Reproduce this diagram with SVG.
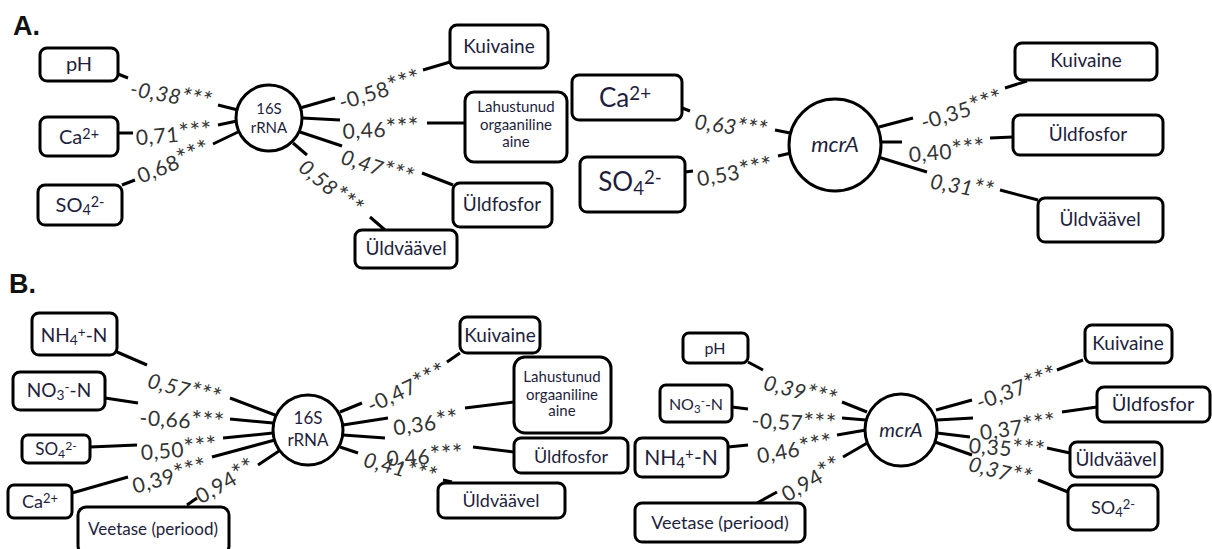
<svg xmlns="http://www.w3.org/2000/svg" width="1212" height="549" viewBox="0 0 1212 549">
<style>
.bx{fill:#fff;stroke:#000;stroke-width:3}
.ci{fill:#fff;stroke:#000;stroke-width:3}
.t{font-family:Lato,"Open Sans",sans-serif;fill:#1e1e3c;text-anchor:middle}
.cl{font-family:Lato,"Open Sans",sans-serif;fill:#333;text-anchor:middle;font-size:21px;letter-spacing:0.5px}
.as{font-size:25px}
.it{font-style:italic}
.hd{font-family:"Liberation Sans",Arial,sans-serif;font-weight:bold;font-size:27px;fill:#111}
.sub{baseline-shift:-22%;font-size:72%}
.sup{baseline-shift:38%;font-size:72%}
#connectors path{fill:none;stroke:#000;stroke-width:3}
</style>
<rect width="1212" height="549" fill="#fff"/>
<text class="hd" x="13" y="35">A.</text>
<text class="hd" x="9" y="293">B.</text>

<g id="connectors">
<path d="M118,74 L128,78 M218,105 L238,110"/>
<path d="M118,133 L133,133 M218,125 L237,121"/>
<path d="M122,185 L135,180 M213,144 L238,132"/>
<path d="M300,108 L335,98 M423,70 L450,62"/>
<path d="M302,118 L340,120 M427,123 L465,123"/>
<path d="M300,132 L342,146 M422,173 L453,185"/>
<path d="M293,143 L307,155 M370,217 L385,230"/>
<path d="M682,108 L690,111 M775,130 L790,133"/>
<path d="M685,172 L693,171 M778,156 L791,153"/>
<path d="M879,127 L913,118 M1005,88 L1027,81"/>
<path d="M880,142 L902,142 M990,138 L1013,137"/>
<path d="M878,157 L927,172 M1000,190 L1038,200"/>
<path d="M117,352 L147,365 M230,398 L275,415"/>
<path d="M105,398 L138,403 M230,419 L273,423"/>
<path d="M90,447 L137,445 M223,438 L273,433"/>
<path d="M72,493 L128,477 M212,457 L275,440"/>
<path d="M187,505 L197,498 M258,465 L279,451"/>
<path d="M340,412 L362,403 M447,362 L460,353"/>
<path d="M343,425 L388,418 M465,408 L514,402"/>
<path d="M343,435 L385,438 M473,447 L514,452"/>
<path d="M340,447 L358,453 M443,480 L452,482"/>
<path d="M748,362 L763,370 M842,402 L867,412"/>
<path d="M732,407 L748,409 M842,418 L866,420"/>
<path d="M728,447 L748,445 M837,435 L866,430"/>
<path d="M757,503 L777,492 M843,457 L869,442"/>
<path d="M936,410 L972,400 M1057,370 L1083,360"/>
<path d="M937,420 L973,418 M1062,412 L1097,407"/>
<path d="M937,433 L970,437 M1047,448 L1070,453"/>
<path d="M935,442 L972,455 M1038,480 L1068,492"/>

<text class="cl it" transform="translate(171,96) rotate(10)" y="7">-0,38<tspan class="as">***</tspan></text>
<text class="cl" transform="translate(174,135) rotate(-5)" y="7">0,71<tspan class="as">***</tspan></text>
<text class="cl" transform="translate(174,163) rotate(-22)" y="7">0,68<tspan class="as">***</tspan></text>
<text class="cl" transform="translate(380,91) rotate(-17)" y="7">-0,58<tspan class="as">***</tspan></text>
<text class="cl" transform="translate(381,130) rotate(-3)" y="7">0,46<tspan class="as">***</tspan></text>
<text class="cl it" transform="translate(377,168) rotate(18)" y="7">0,47<tspan class="as">***</tspan></text>
<text class="cl it" transform="translate(330,188) rotate(40)" y="7">0,58<tspan class="as">***</tspan></text>

<text class="cl it" transform="translate(731,127) rotate(8)" y="7">0,63<tspan class="as">***</tspan></text>
<text class="cl" transform="translate(735,173) rotate(-10)" y="7">0,53<tspan class="as">***</tspan></text>
<text class="cl" transform="translate(962,111) rotate(-17)" y="7">-0,35<tspan class="as">***</tspan></text>
<text class="cl" transform="translate(947,152) rotate(-5)" y="7">0,40<tspan class="as">***</tspan></text>
<text class="cl it" transform="translate(962,187) rotate(10)" y="7">0,31<tspan class="as">**</tspan></text>

<text class="cl it" transform="translate(184,390) rotate(15)" y="7">0,57<tspan class="as">***</tspan></text>
<text class="cl" transform="translate(182,421) rotate(4)" y="7">-0,66<tspan class="as">***</tspan></text>
<text class="cl" transform="translate(179,450) rotate(-5)" y="7">0,50<tspan class="as">***</tspan></text>
<text class="cl" transform="translate(170,477) rotate(-15)" y="7">0,39<tspan class="as">***</tspan></text>
<text class="cl" transform="translate(226,482) rotate(-30)" y="7">0,94<tspan class="as">**</tspan></text>
<text class="cl" transform="translate(407,389) rotate(-25)" y="7">-0,47<tspan class="as">***</tspan></text>
<text class="cl" transform="translate(426,424) rotate(-8)" y="7">0,36<tspan class="as">**</tspan></text>
<text class="cl" transform="translate(425,457) rotate(-3)" y="7">0,46<tspan class="as">***</tspan></text>
<text class="cl it" transform="translate(400,469) rotate(15)" y="7">0,41<tspan class="as">***</tspan></text>

<text class="cl it" transform="translate(800,392) rotate(15)" y="7">0,39<tspan class="as">***</tspan></text>
<text class="cl" transform="translate(794,423) rotate(3)" y="7">-0,57<tspan class="as">***</tspan></text>
<text class="cl" transform="translate(795,450) rotate(-10)" y="7">0,46<tspan class="as">***</tspan></text>
<text class="cl" transform="translate(812,480) rotate(-30)" y="7">0,94<tspan class="as">**</tspan></text>
<text class="cl" transform="translate(1017,389) rotate(-20)" y="7">-0,37<tspan class="as">***</tspan></text>
<text class="cl" transform="translate(1018,428) rotate(-8)" y="7">0,37<tspan class="as">***</tspan></text>
<text class="cl" transform="translate(1007,449) rotate(5)" y="7">0,35<tspan class="as">***</tspan></text>
<text class="cl it" transform="translate(1000,472) rotate(15)" y="7">0,37<tspan class="as">**</tspan></text>
</g>

<g id="a-16s"><circle class="ci" cx="269" cy="118" r="33"/><text class="t" font-size="15"><tspan x="269" y="114">16S</tspan><tspan x="269" y="133">rRNA</tspan></text></g>
<g id="a-ph"><rect class="bx" x="40" y="48" width="78" height="33" rx="7"/><text class="t" x="79" y="71" font-size="20">pH</text></g>
<g id="a-ca"><rect class="bx" x="40" y="117" width="78" height="39" rx="7"/><text class="t" x="79" y="144" font-size="20">Ca<tspan class="sup">2+</tspan></text></g>
<g id="a-so4"><rect class="bx" x="38" y="185" width="84" height="40" rx="7"/><text class="t" x="80" y="212" font-size="20">SO<tspan class="sub">4</tspan><tspan class="sup">2-</tspan></text></g>
<g id="a-kuivaine"><rect class="bx" x="450" y="25" width="98" height="43" rx="7"/><text class="t" x="499" y="53" font-size="19">Kuivaine</text></g>
<g id="a-lahustunud"><rect class="bx" x="465" y="92" width="102" height="70" rx="9"/><text class="t" font-size="15"><tspan x="516" y="112">Lahustunud</tspan><tspan x="516" y="130">orgaaniline</tspan><tspan x="516" y="147">aine</tspan></text></g>
<g id="a-uldfosfor"><rect class="bx" x="453" y="183" width="99" height="44" rx="7"/><text class="t" x="502" y="211" font-size="19">Üldfosfor</text></g>
<g id="a-uldvaavel"><rect class="bx" x="355" y="230" width="102" height="38" rx="7"/><text class="t" x="406" y="255" font-size="19">Üldväävel</text></g>

<g id="a-mcra"><circle class="ci" cx="835" cy="145" r="46"/><text class="t it" x="835" y="152" font-size="22">mcrA</text></g>
<g id="a2-ca"><rect class="bx" x="572" y="75" width="110" height="45" rx="7"/><text class="t" x="625" y="107" font-size="26">Ca<tspan class="sup">2+</tspan></text></g>
<g id="a2-so4"><rect class="bx" x="580" y="157" width="105" height="55" rx="7"/><text class="t" x="630" y="191" font-size="26">SO<tspan class="sub">4</tspan><tspan class="sup">2-</tspan></text></g>
<g id="a2-kuivaine"><rect class="bx" x="1015" y="43" width="142" height="37" rx="7"/><text class="t" x="1086" y="67" font-size="19">Kuivaine</text></g>
<g id="a2-uldfosfor"><rect class="bx" x="1013" y="115" width="150" height="40" rx="7"/><text class="t" x="1088" y="141" font-size="19">Üldfosfor</text></g>
<g id="a2-uldvaavel"><rect class="bx" x="1038" y="198" width="125" height="44" rx="7"/><text class="t" x="1100" y="226" font-size="19">Üldväävel</text></g>

<g id="b-16s"><circle class="ci" cx="308" cy="430" r="35"/><text class="t" font-size="17"><tspan x="308" y="424">16S</tspan><tspan x="308" y="446">rRNA</tspan></text></g>
<g id="b-nh4"><rect class="bx" x="32" y="313" width="85" height="42" rx="7"/><text class="t" x="74" y="342" font-size="19">NH<tspan class="sub">4</tspan><tspan class="sup">+</tspan>-N</text></g>
<g id="b-no3"><rect class="bx" x="13" y="372" width="92" height="38" rx="7"/><text class="t" x="59" y="397" font-size="19">NO<tspan class="sub">3</tspan><tspan class="sup">-</tspan>-N</text></g>
<g id="b-so4"><rect class="bx" x="22" y="435" width="68" height="28" rx="6"/><text class="t" x="56" y="455" font-size="17">SO<tspan class="sub">4</tspan><tspan class="sup">2-</tspan></text></g>
<g id="b-ca"><rect class="bx" x="8" y="485" width="64" height="33" rx="6"/><text class="t" x="40" y="508" font-size="18">Ca<tspan class="sup">2+</tspan></text></g>
<g id="b-veetase"><rect class="bx" x="78" y="507" width="151" height="47" rx="8"/><text class="t" x="153" y="535" font-size="17">Veetase (periood)</text></g>
<g id="b-kuivaine"><rect class="bx" x="460" y="317" width="80" height="36" rx="7"/><text class="t" x="500" y="342" font-size="19">Kuivaine</text></g>
<g id="b-lahustunud"><rect class="bx" x="514" y="357" width="97" height="76" rx="11"/><text class="t" font-size="15"><tspan x="562" y="382">Lahustunud</tspan><tspan x="562" y="400">orgaaniline</tspan><tspan x="562" y="416">aine</tspan></text></g>
<g id="b-uldfosfor"><rect class="bx" x="514" y="438" width="114" height="35" rx="7"/><text class="t" x="571" y="463" font-size="18">Üldfosfor</text></g>
<g id="b-uldvaavel"><rect class="bx" x="438" y="483" width="127" height="35" rx="7"/><text class="t" x="501" y="507" font-size="18">Üldväävel</text></g>

<g id="b-mcra"><circle class="ci" cx="901" cy="430" r="36"/><text class="t it" x="901" y="437" font-size="20">mcrA</text></g>
<g id="b2-ph"><rect class="bx" x="683" y="333" width="65" height="30" rx="6"/><text class="t" x="715" y="354" font-size="16">pH</text></g>
<g id="b2-no3"><rect class="bx" x="660" y="385" width="72" height="37" rx="6"/><text class="t" x="696" y="410" font-size="16">NO<tspan class="sub">3</tspan><tspan class="sup">-</tspan>-N</text></g>
<g id="b2-nh4"><rect class="bx" x="635" y="438" width="93" height="39" rx="7"/><text class="t" x="681" y="465" font-size="21">NH<tspan class="sub">4</tspan><tspan class="sup">+</tspan>-N</text></g>
<g id="b2-veetase"><rect class="bx" x="635" y="503" width="170" height="39" rx="7"/><text class="t" x="720" y="529" font-size="18">Veetase (periood)</text></g>
<g id="b2-kuivaine"><rect class="bx" x="1085" y="325" width="87" height="38" rx="7"/><text class="t" x="1128" y="350" font-size="19">Kuivaine</text></g>
<g id="b2-uldfosfor"><rect class="bx" x="1097" y="387" width="113" height="35" rx="7"/><text class="t" x="1153" y="411" font-size="20">Üldfosfor</text></g>
<g id="b2-uldvaavel"><rect class="bx" x="1070" y="442" width="92" height="35" rx="7"/><text class="t" x="1116" y="466" font-size="19">Üldväävel</text></g>
<g id="b2-so4"><rect class="bx" x="1068" y="485" width="90" height="45" rx="7"/><text class="t" x="1113" y="514" font-size="18">SO<tspan class="sub">4</tspan><tspan class="sup">2-</tspan></text></g>
</svg>
